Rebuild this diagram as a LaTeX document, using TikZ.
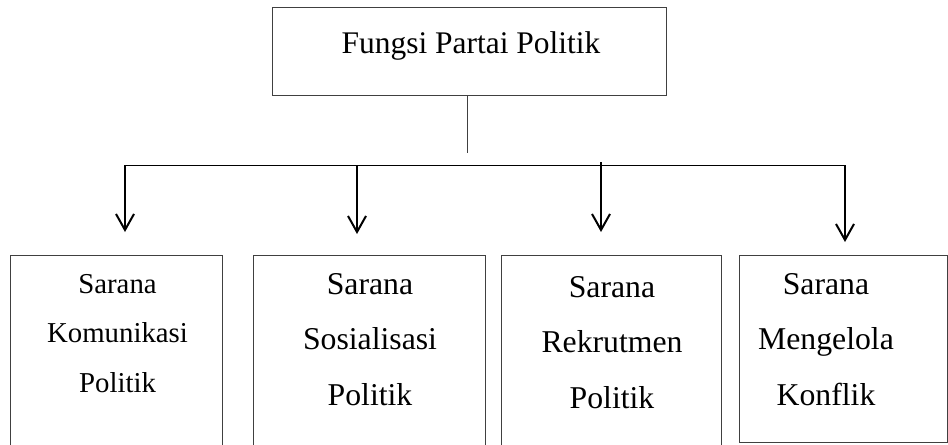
\documentclass[tikz,border=0pt]{standalone}
\usepackage{fontspec}
\setmainfont{Liberation Serif}
\usetikzlibrary{arrows.meta,positioning}

\tikzset{
	kotak/.style={draw=black!75, line width=0.75pt, inner sep=0pt},
	isi/.style={align=center, anchor=base, inner sep=0pt},
	panah/.style={line width=1.5pt, -{Straight Barb[length=12pt,width=13.5pt,line width=1.5pt]}}
}

\begin{document}
\begin{tikzpicture}[x=0.75pt,y=-0.75pt]
	\useasboundingbox (0,0) rectangle (948,444);
	\clip (0,0) rectangle (948,444);
	% kotak atas
	\node [kotak, minimum width=295.5pt, minimum height=66pt] (fungsi) at (469,51) {};
	\node [isi, font=\fontsize{23.6}{28}\selectfont] (fungsiteks) at (471,53) {Fungsi Partai Politik};
	% kotak bawah
	\node [kotak, minimum width=159pt, minimum height=153.75pt] (komunikasi) at (116,357.5) {};
	\node [kotak, minimum width=174pt, minimum height=153.75pt] (sosialisasi) at (369,357.5) {};
	\node [kotak, minimum width=165pt, minimum height=153.75pt] (rekrutmen) at (611,357.5) {};
	\node [kotak, minimum width=156pt, minimum height=140.25pt] (konflik) at (843,348.5) {};
	\node [isi, font=\fontsize{21.6}{37.1}\selectfont] (komunikasiteks) at (117.5,392) {Sarana\\Komunikasi\\Politik};
	\node [isi, font=\fontsize{23.8}{41.6}\selectfont] (sosialisasiteks) at (370,405) {Sarana\\Sosialisasi\\Politik};
	\node [isi, font=\fontsize{23.8}{41.6}\selectfont] (rekrutmenteks) at (612,408) {Sarana\\Rekrutmen\\Politik};
	\node [isi, font=\fontsize{23.8}{41.6}\selectfont] (konflikteks) at (826,405) {Sarana\\Mengelola\\Konflik};
	% garis penghubung
	\coordinate (batang) at (467,153);
	\coordinate (kiri) at (125,165);
	\coordinate (kanan) at (845,165);
	\coordinate (ujung1) at (125,232);
	\coordinate (ujung2) at (357,234);
	\coordinate (ujung3) at (601,232);
	\coordinate (ujung4) at (845,242);
	\draw [black!75, line width=0.75pt] (fungsi.south -| batang) -- (batang);
	\draw [line width=0.75pt] (kiri) -- (kanan);
	\draw [panah] (kiri) -- (ujung1);
	\draw [panah] (ujung2 |- kiri) -- (ujung2);
	\draw [panah] ([yshift=2.25pt]ujung3 |- kiri) -- (ujung3);
	\draw [panah] (kanan) -- (ujung4);
\end{tikzpicture}
\end{document}
